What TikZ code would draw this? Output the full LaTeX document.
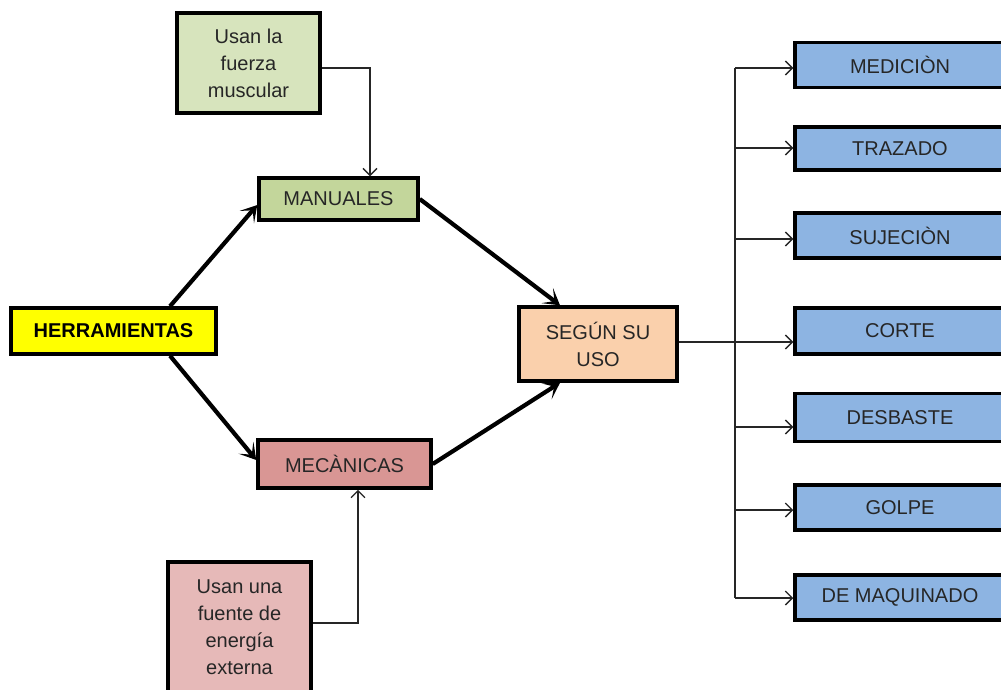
\documentclass[tikz,border=0pt]{standalone}
\usepackage{fontspec}
\setmainfont{Liberation Sans}
\usetikzlibrary{arrows.meta,calc}
\definecolor{cFuerza}{HTML}{D7E4BD}
\definecolor{cMan}{HTML}{C3D69B}
\definecolor{cHerr}{HTML}{FFFF00}
\definecolor{cSeg}{HTML}{FAD0AC}
\definecolor{cMec}{HTML}{D99694}
\definecolor{cEner}{HTML}{E6B9B8}
\definecolor{cBlue}{HTML}{8DB4E2}
\definecolor{cText}{HTML}{262626}
\tikzset{
  box/.style={draw=black, line width=3.5pt, inner sep=0pt, align=center,
    text=cText, font=\fontsize{20}{27}\selectfont},
  rbox/.style={box, fill=cBlue, minimum width=210pt, minimum height=45pt},
  thick arrow/.style={line width=4.2pt, -{Stealth[length=16pt,width=19pt,inset=9pt]}},
  thin arrow/.style={line width=1.3pt, draw=black!85, -{Straight Barb[length=7pt,width=14pt,line width=1.3pt]}},
  thin line/.style={line width=1.3pt, draw=black!85}
}
\begin{document}
\begin{tikzpicture}[x=1pt,y=-1pt]
\useasboundingbox (0,0) rectangle (1001,689);
\clip (0,0) rectangle (1001,689);
\fill[white] (0,0) rectangle (1001,689);

\node[box, fill=cFuerza, minimum width=143pt, minimum height=100pt] (fuerza) at (248.5,63) {Usan la\\fuerza\\muscular};
\node[box, fill=cMan, minimum width=159pt, minimum height=42pt] (man) at (338.5,199) {MANUALES};
\node[box, fill=cHerr, minimum width=205pt, minimum height=46pt, font=\fontsize{20}{27}\selectfont\bfseries, text=black] (herr) at (113.5,331) {HERRAMIENTAS};
\node[box, fill=cSeg, minimum width=158pt, minimum height=74pt] (seg) at (598,344) {SEGÚN SU\\USO};
\node[box, fill=cMec, minimum width=173pt, minimum height=48pt] (mec) at (344.5,464) {MECÀNICAS};
\node[box, fill=cEner, minimum width=143pt, minimum height=130pt] (ener) at (239.5,627) {Usan una\\fuente de\\energía\\externa};

\node[rbox] (med) at (900,65) {MEDICIÒN};
\node[rbox, minimum height=43pt] (tra) at (900,148.5) {TRAZADO};
\node[rbox] (suj) at (900,235.5) {SUJECIÒN};
\node[rbox, minimum height=46pt] (cor) at (900,331) {CORTE};
\node[rbox, minimum height=48pt] (des) at (900,417.5) {DESBASTE};
\node[rbox] (gol) at (900,507.5) {GOLPE};
\node[rbox] (maq) at (900,597.5) {DE MAQUINADO};

% thick arrows
\draw[thick arrow] ([xshift=56.5pt]herr.north) -- ([yshift=-6pt]man.west);
\draw[thick arrow] ([xshift=56.5pt]herr.south) -- ([yshift=4pt]mec.west);
\draw[thick arrow] (man.east) -- ([xshift=-38pt]seg.north);
\draw[thick arrow] (mec.east) -- ([xshift=-38pt]seg.south);

% thin connectors
\draw[thin arrow] ([yshift=-5pt]fuerza.east) -| ([xshift=31.5pt]man.north);
\draw[thin arrow] ([yshift=4pt]ener.east) -| ([xshift=13.5pt]mec.south);

% branch
\coordinate (vt) at (735,68);
\coordinate (vb) at (735,598);
\draw[thin line] (vt) -- (vb);
\draw[thin arrow] ([yshift=2pt]seg.east) -- ([yshift=2pt]seg.east -| cor.west);
\draw[thin arrow] (vt) -- (vt -| med.west);
\coordinate (b2) at (735,148);
\draw[thin arrow] (b2) -- (b2 -| tra.west);
\coordinate (b3) at (735,239);
\draw[thin arrow] (b3) -- (b3 -| suj.west);
\coordinate (b5) at (735,427);
\draw[thin arrow] (b5) -- (b5 -| des.west);
\coordinate (b6) at (735,510);
\draw[thin arrow] (b6) -- (b6 -| gol.west);
\draw[thin arrow] (vb) -- (vb -| maq.west);
\end{tikzpicture}
\end{document}
